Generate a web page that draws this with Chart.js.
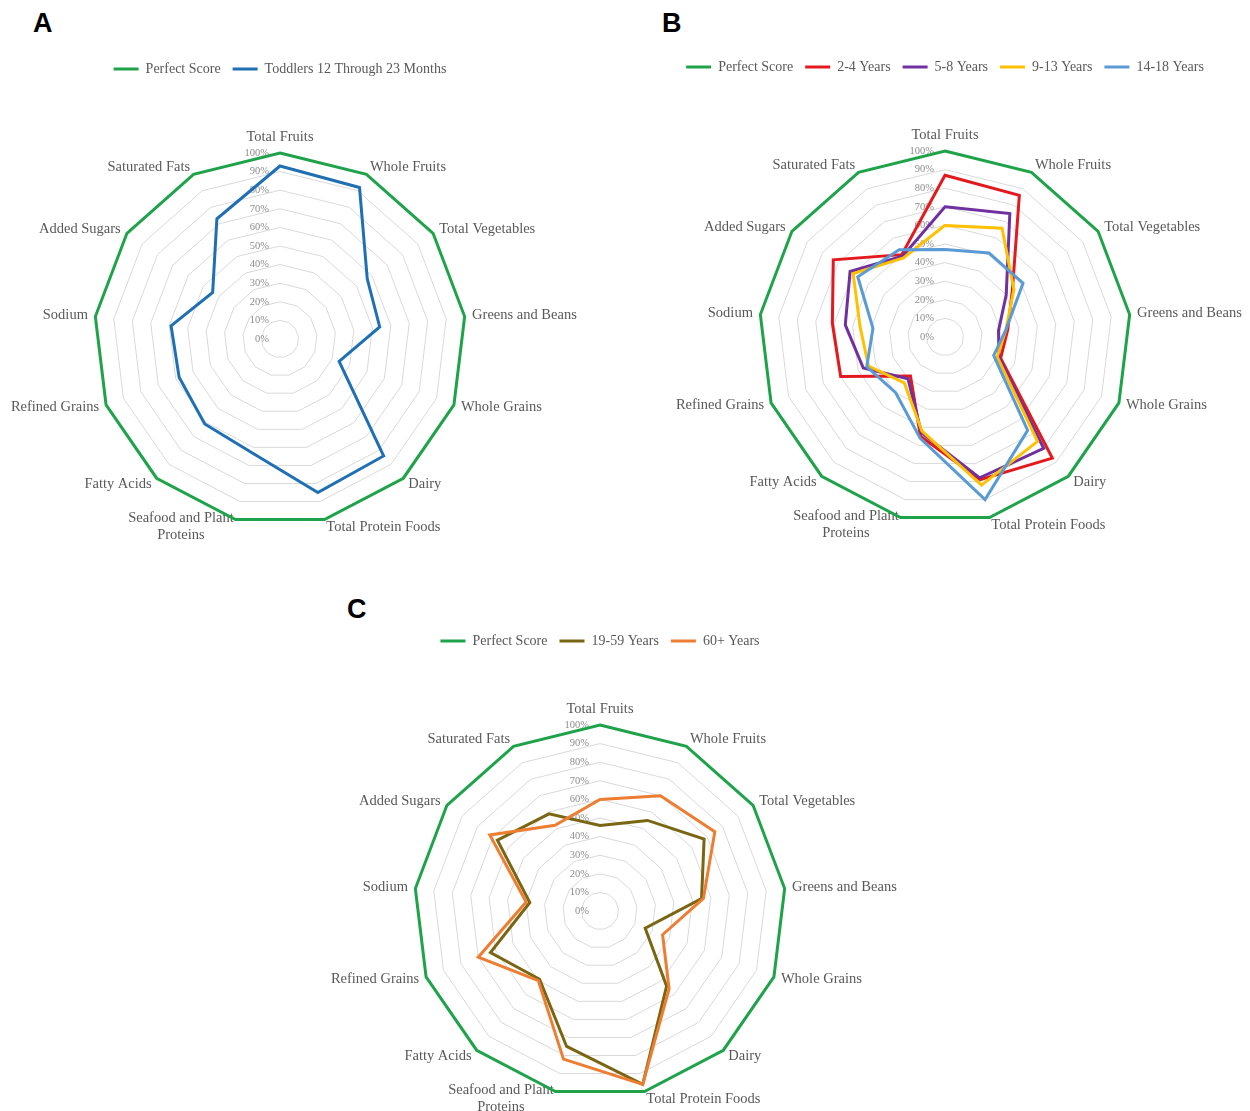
<!DOCTYPE html>
<html><head><meta charset="utf-8">
<script src="https://cdn.jsdelivr.net/npm/chart.js@4.4.1/dist/chart.umd.min.js"></script>
<style>
html,body{margin:0;padding:0;background:#fff;width:1250px;height:1111px;overflow:hidden;position:relative;}
.panel{position:absolute;font-family:'Liberation Sans',Arial,sans-serif;font-weight:bold;font-size:27px;line-height:1;color:#000;}
canvas{position:absolute;}
</style></head><body>
<div class="panel" style="left:33px;top:10px">A</div>
<div class="panel" style="left:662px;top:10px">B</div>
<div class="panel" style="left:347px;top:596px">C</div>
<canvas id="ca" width="660" height="543" style="left:-50px;top:42px"></canvas>
<canvas id="cb" width="660" height="543" style="left:615px;top:40px"></canvas>
<canvas id="cc" width="660" height="543" style="left:270px;top:614px"></canvas>
<script>
const categories = ['Total Fruits','Whole Fruits','Total Vegetables','Greens and Beans','Whole Grains','Dairy','Total Protein Foods',['Seafood and Plant','Proteins'],'Fatty Acids','Refined Grains','Sodium','Added Sugars','Saturated Fats'];
const tickLabels = ['0%','10%','20%','30%','40%','50%','60%','70%','80%','90%','100%'];
const perfectScore = [100,100,100,100,100,100,100,100,100,100,100,100,100];
const toddlers12to23Months = [93,92,57,54,34,84,85,63,61,58,59,44,73];
const years2to4 = [87,86,44,34,32,87,79,55,28,60,61,73,50];
const years5to8 = [70,75,40,29,31,80,78,53,30,47,54,62,49];
const years9to13 = [60,66,45,33,30,75,82,52,33,44,46,60,48];
const years14to18 = [47,51,51,33,28,67,90,56,40,45,39,57,53];
const years19to59 = [46,55,68,55,26,54,96,75,49,63,38,67,59];
const years60plus = [60,70,75,56,36,56,96,82,50,70,40,72,52];

const GREEN = '#1fa34a';
const SERIF = '"Liberation Serif", "Times New Roman", serif';

// Tick labels drawn at the scale's own ring distances, just left of the vertical axis
const tickLabelPlugin = {
  id: 'tickLabelPlugin',
  beforeDatasetsDraw(chart) {
    const s = chart.scales.r, ctx = chart.ctx;
    ctx.save();
    ctx.font = '10.5px ' + SERIF;
    ctx.fillStyle = '#8c8c8c';
    ctx.textAlign = 'right';
    ctx.textBaseline = 'middle';
    s.ticks.forEach((t, i) => {
      const d = s.getDistanceFromCenterForValue(t.value);
      ctx.fillText(tickLabels[i], s.xCenter - 11, s.yCenter - d);
    });
    ctx.restore();
  }
};

// Category labels placed (Excel style) just outside each spoke end given by the scale
const pointLabelPlugin = {
  id: 'pointLabelPlugin',
  beforeDatasetsDraw(chart) {
    const s = chart.scales.r, ctx = chart.ctx;
    const labels = chart.data.labels, n = labels.length, lh = 17, gap = 7.5;
    ctx.save();
    ctx.font = '14.5px ' + SERIF;
    ctx.fillStyle = '#595959';
    ctx.textBaseline = 'middle';
    labels.forEach((lbl, i) => {
      const lines = Array.isArray(lbl) ? lbl : [lbl];
      const deg = (i * 360 / n) % 360;
      const p = s.getPointPosition(i, s.drawingArea + gap);
      const bw = Math.max(...lines.map(l => ctx.measureText(l).width));
      const bh = lines.length * lh;
      let cx;
      if (Math.abs(deg) < 1 || Math.abs(deg - 180) < 1) cx = p.x;
      else if (deg < 180) cx = p.x + bw / 2;
      else cx = p.x - bw / 2;
      let top;
      if (Math.abs(deg) < 1) top = p.y - bh;
      else if (Math.abs(deg - 180) < 1) top = p.y;
      else top = p.y - bh / 2;
      ctx.textAlign = 'center';
      lines.forEach((l, k) => ctx.fillText(l, cx, top + lh * k + lh / 2));
    });
    ctx.restore();
  }
};

const legendSpacer = {
  id: 'legendSpacer',
  beforeUpdate(chart) {
    const lg = chart.legend;
    if (lg && !lg._spaced) {
      const fit = lg.fit;
      lg.fit = function () { fit.call(this); this.height = 103; };
      lg._spaced = true;
    }
  }
};

function ds(label, data, color) {
  return {label, data, borderColor: color, backgroundColor: color, borderWidth: 3, pointRadius: 0, pointHoverRadius: 0, fill: false, tension: 0};
}

function makeChart(id, series) {
  const datasets = series.map((s, i) => Object.assign(ds(s[0], s[1], s[2]), {order: series.length - i}));
  return new Chart(document.getElementById(id), {
    type: 'radar',
    data: {labels: categories, datasets},
    plugins: [tickLabelPlugin, pointLabelPlugin, legendSpacer],
    options: {
      responsive: false,
      animation: false,
      events: [],
      layout: {padding: {top: 8, bottom: 60, left: 0, right: 0}},
      plugins: {
        tooltip: {enabled: false},
        legend: {
          position: 'top',
          labels: {
            usePointStyle: true, pointStyle: 'line', pointStyleWidth: 25,
            font: {family: SERIF, size: 14},
            color: '#595959', padding: 12,
            sort: (a, b) => a.datasetIndex - b.datasetIndex
          }
        }
      },
      scales: {
        r: {
          min: 0, max: 100,
          ticks: {stepSize: 10, display: false},
          grid: {color: '#d9d9d9', lineWidth: 1},
          angleLines: {display: false},
          pointLabels: {display: false}
        }
      }
    }
  });
}

makeChart('ca', [
  ['Perfect Score', perfectScore, GREEN],
  ['Toddlers 12 Through 23 Months', toddlers12to23Months, '#1f6fb4']
]);
makeChart('cb', [
  ['Perfect Score', perfectScore, GREEN],
  ['2-4 Years', years2to4, '#e3191e'],
  ['5-8 Years', years5to8, '#7030a0'],
  ['9-13 Years', years9to13, '#ffc000'],
  ['14-18 Years', years14to18, '#5b9bd5']
]);
makeChart('cc', [
  ['Perfect Score', perfectScore, GREEN],
  ['19-59 Years', years19to59, '#7a6512'],
  ['60+ Years', years60plus, '#ed7d31']
]);
</script>
</body></html>
